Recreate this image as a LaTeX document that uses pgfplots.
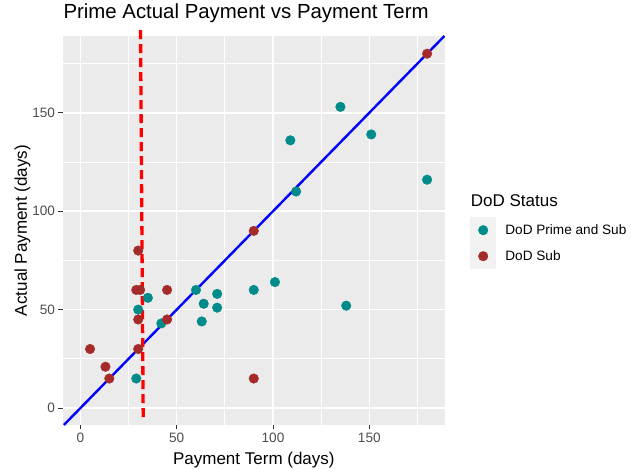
\documentclass[border=0pt]{standalone}
\usepackage{pgfplots}
\pgfplotsset{compat=1.18}
\usepackage{fontspec}
\setmainfont{Liberation Sans}
\definecolor{panelbg}{HTML}{EBEBEB}
\definecolor{dodteal}{HTML}{008B8B}
\definecolor{dodred}{HTML}{A52A2A}
\definecolor{keybg}{HTML}{F2F2F2}
\definecolor{ticklab}{HTML}{4D4D4D}
\definecolor{tickcol}{HTML}{333333}
\begin{document}
\begin{tikzpicture}[x=1pt,y=1pt]
\useasboundingbox (0,0) rectangle (631,470);
\begin{axis}[
  at={(62.7pt,45pt)}, anchor=south west,
  scale only axis, width=382.3pt, height=389pt,
  xmin=-9.2, xmax=189.3, ymin=-8.6, ymax=189,
  axis background/.style={fill=panelbg},
  axis line style={draw=none},
  xtick={0,50,100,150}, ytick={0,50,100,150},
  minor xtick={25,75,125,175}, minor ytick={25,75,125,175},
  grid=both,
  major grid style={white, line width=1.5pt},
  minor grid style={white, line width=0.75pt},
  tick align=outside, tick pos=left,
  major tick length=4.2pt, minor tick length=0pt,
  tick style={tickcol, line width=1pt},
  ticklabel style={font=\fontsize{13.6}{14}\selectfont, text=ticklab},
  /pgf/number format/assume math mode=true,
  xlabel={Payment Term (days)}, ylabel={Actual Payment (days)},
  label style={font=\fontsize{17}{20}\selectfont, inner sep=0pt},
  xlabel style={at={(axis description cs:0.5,-0.1003)}, anchor=base},
  ylabel style={at={(axis description cs:-0.0934,0.5)}, anchor=base},
  title={Prime Actual Payment vs Payment Term},
  title style={at={(axis description cs:0.0016,1.0283)}, anchor=base west, inner sep=0pt, font=\fontsize{20.4}{24}\selectfont},
  clip=false,
  legend style={at={(axis description cs:1.0654,0.5347)}, anchor=north west, draw=none, fill=none, inner sep=0pt, row sep=0pt, column sep=0pt,
    nodes={inner sep=0pt, font=\fontsize{13.6}{14}\selectfont}},
  legend cell align=left,
  legend image code/.code={
    \fill[keybg, draw=none] (-13pt,-13pt) rectangle (13pt,13pt);
    \draw plot coordinates {(0pt,0pt)};
    \path (22pt,0pt);
  },
]
% DoD Prime and Sub
\addplot[only marks, mark=*, mark size=4.8pt, draw=dodteal, fill=dodteal, mark options={draw=dodteal, fill=dodteal}] coordinates {
(29,15) (30,50) (35,56) (42,43) (60,60) (64,53) (63,44) (71,58) (71,51)
(90,60) (101,64) (138,52) (109,136) (135,153) (151,139) (112,110) (180,116)
};
\addlegendentry{DoD Prime and Sub}
% DoD Sub
\addplot[only marks, mark=*, mark size=4.8pt, draw=dodred, fill=dodred, mark options={draw=dodred, fill=dodred}] coordinates {
(5,30) (13,21) (15,15) (30,80) (29,60) (31,60) (30,45) (30,30)
(45,60) (45,45) (90,15) (90,90) (180,180)
};
\addlegendentry{DoD Sub}
% reference line y = x
\addplot[blue, line width=2.4pt, forget plot] coordinates {(-8.6,-8.6) (189,189)};
% threshold line
\addplot[red, line width=3.3pt, dash pattern=on 9pt off 5pt, forget plot] coordinates {(31.2,192) (32.6,-5)};
\node[anchor=base west, inner sep=0pt, font=\fontsize{17}{20}\selectfont] at (axis description cs:1.0672,0.5605) {DoD Status};
\end{axis}
\end{tikzpicture}
\end{document}
